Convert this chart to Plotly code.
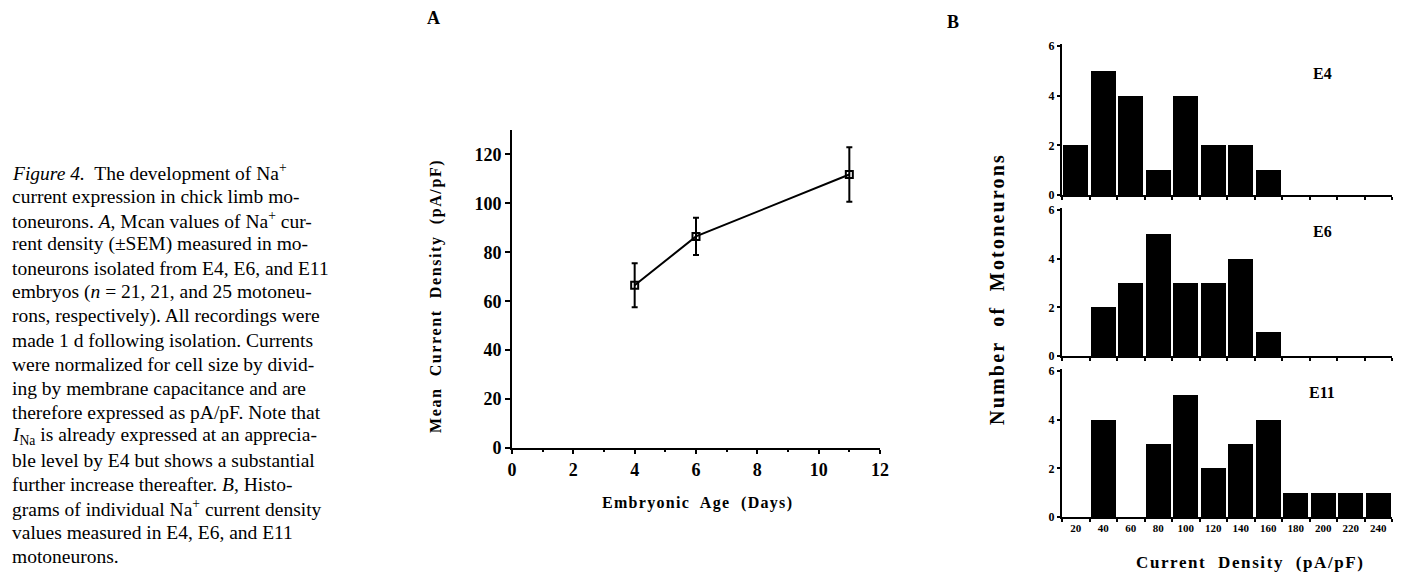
import plotly.graph_objects as go

# ---------------- data ----------------
ages = [4, 6, 11]
mean_density = [66.5, 86.5, 111.8]
sem = [9.0, 7.6, 11.1]

bin_centers = [20, 40, 60, 80, 100, 120, 140, 160, 180, 200, 220, 240]
e4_counts = [2, 5, 4, 1, 4, 2, 2, 1, 0, 0, 0, 0]
e6_counts = [0, 2, 3, 5, 3, 3, 4, 1, 0, 0, 0, 0]
e11_counts = [0, 4, 0, 3, 5, 2, 3, 4, 1, 1, 1, 1]
hist_labels = ["E4", "E6", "E11"]

caption_lines = [
    "<i>Figure 4.</i>  The development of Na<sup>+</sup>",
    "current expression in chick limb mo-",
    "toneurons. <i>A</i>, Mcan values of Na<sup>+</sup> cur-",
    "rent density (±SEM) measured in mo-",
    "toneurons isolated from E4, E6, and E11",
    "embryos (<i>n</i> = 21, 21, and 25 motoneu-",
    "rons, respectively). All recordings were",
    "made 1 d following isolation. Currents",
    "were normalized for cell size by divid-",
    "ing by membrane capacitance and are",
    "therefore expressed as pA/pF. Note that",
    "<i>I</i><sub>Na</sub> is already expressed at an apprecia-",
    "ble level by E4 but shows a substantial",
    "further increase thereafter. <i>B</i>, Histo-",
    "grams of individual Na<sup>+</sup> current density",
    "values measured in E4, E6, and E11",
    "motoneurons.",
]

# the page body adds an 8px margin, so the figure is made 8px smaller
OFF = 8
W, H = 1401 - OFF, 576 - OFF
SERIF = "Liberation Serif, Times New Roman, serif"


def fx(px):
    return (px - OFF) / W


def fy(py):
    return 1 - (py - OFF) / H


def spaced(text, ls):
    return f'<span style="letter-spacing:{ls}px"><b>{text}</b></span>'


fig = go.Figure()

# ---------------- panel A ----------------
fig.add_trace(go.Scatter(
    x=ages, y=mean_density, mode="lines+markers",
    line=dict(color="black", width=2),
    marker=dict(symbol="square-open", size=7, color="black", line=dict(width=2, color="black")),
    error_y=dict(type="data", array=sem, visible=True, color="black", thickness=2, width=3),
    xaxis="x", yaxis="y", showlegend=False,
))

# ---------------- panel B ----------------
for i, counts in enumerate([e4_counts, e6_counts, e11_counts]):
    fig.add_trace(go.Bar(
        x=bin_centers, y=counts, width=18,
        marker=dict(color="black", line=dict(width=0)),
        xaxis=f"x{i + 2}", yaxis=f"y{i + 2}", showlegend=False,
    ))

axis_common = dict(showline=True, linecolor="black", linewidth=2, showgrid=False,
                   zeroline=False, ticks="outside", tickcolor="black", tickwidth=2)

layout = dict(
    width=W, height=H, margin=dict(l=0, r=0, t=0, b=0, pad=0, autoexpand=False),
    paper_bgcolor="white", plot_bgcolor="white",
    font=dict(family=SERIF, color="black"),
    bargap=0,
    xaxis=dict(domain=[fx(512), fx(880)], range=[0, 12], tickvals=[0, 2, 4, 6, 8, 10, 12],
               ticklen=4, tickfont=dict(size=18, weight="bold"),
               minor=dict(ticks="outside", dtick=1, ticklen=2, tickwidth=1.5, tickcolor="black"),
               anchor="y", **axis_common),
    yaxis=dict(domain=[fy(448), fy(130)], range=[0, 130], tickvals=[0, 20, 40, 60, 80, 100, 120],
               ticklen=5, tickfont=dict(size=18, weight="bold"), anchor="x", **axis_common),
)

b_domains = [(46, 195), (210, 356), (371, 517)]
for i, (top, bot) in enumerate(b_domains):
    n = i + 2
    yr_top = 6 + 6 * 2 / (bot - top)
    last = (i == 2)
    layout[f"xaxis{n}"] = dict(
        domain=[fx(1062), fx(1392)], range=[10, 250], anchor=f"y{n}",
        tickvals=bin_centers, ticktext=[str(b) for b in bin_centers] if last else [""] * 12,
        showticklabels=last, tickfont=dict(size=11, weight="bold"),
        showline=True, linecolor="black", linewidth=2, showgrid=False, zeroline=False,
        ticks="", ticklen=0,
        minor=dict(ticks="outside", tick0=10, dtick=20, ticklen=3, tickwidth=1.5, tickcolor="black"),
    )
    layout[f"yaxis{n}"] = dict(
        domain=[fy(bot), fy(top) + 2 / H], range=[0, yr_top], anchor=f"x{n}",
        tickvals=[0, 2, 4, 6], ticklen=3, tickfont=dict(size=12, weight="bold"),
        **axis_common,
    )

fig.update_layout(**layout)

ann = []


def add_text(x, y, text, size, angle=0, xanchor="center"):
    ann.append(dict(x=fx(x), y=fy(y), xref="paper", yref="paper", text=text,
                    textangle=angle, showarrow=False, xanchor=xanchor, yanchor="middle",
                    font=dict(size=size, family=SERIF, color="black")))


# caption
y0, dy = 172, 24.0
for k, line in enumerate(caption_lines):
    add_text(10, y0 + k * dy, line, 19.5, xanchor="left")

# panel letters
add_text(433, 18, "<b>A</b>", 18)
add_text(953, 22, "<b>B</b>", 18)

# axis titles
add_text(436, 296, spaced("Mean  Current  Density  (pA/pF)", 1.6), 16, angle=-90)
add_text(697, 503, spaced("Embryonic  Age  (Days)", 1.3), 16)
add_text(997, 289, spaced("Number  of  Motoneurons", 2.2), 20, angle=-90)
add_text(1250, 562, spaced("Current  Density  (pA/pF)", 1.6), 17)

# histogram labels
for lab, yy in zip(hist_labels, [73, 231, 392]):
    add_text(1322, yy, f"<b>{lab}</b>", 16)

fig.update_layout(annotations=ann)
fig.write_html("out.html")
